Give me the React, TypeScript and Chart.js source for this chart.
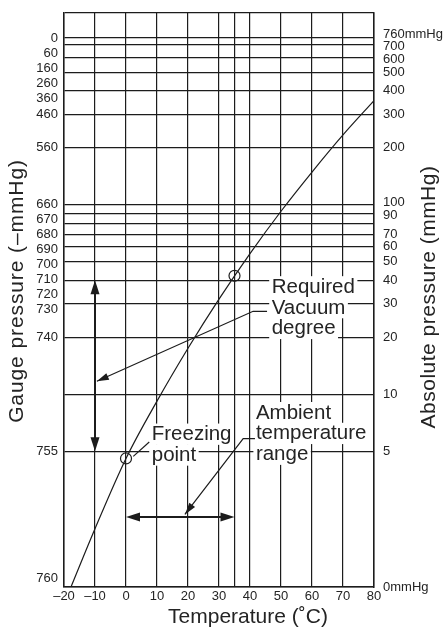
import React, { useEffect, useRef } from "react";
import { Chart, registerables } from "chart.js";

Chart.register(...registerables);

// ---------- DATA ----------
// Saturated vapour pressure curve (temperature °C -> absolute pressure mmHg)
const temperatures = [-20, -10, 0, 10, 20, 30, 40, 50, 60, 70, 80];
const vaporPressure = [0.78, 1.95, 4.58, 9.2, 17.5, 31.8, 55.3, 92.5, 149, 234, 355];

// circled points on the curve
const markedTemps = [0, 35];
const markedPressures = [4.58, 42.2];

// x axis (temperature)
const xMin = -20;
const xMax = 80;
const xGridValues = [-20, -10, 0, 10, 20, 30, 35, 40, 50, 60, 70, 80];
const xLabelledValues = [-20, -10, 0, 10, 20, 30, 40, 50, 60, 70, 80];

// y axis (absolute pressure, logarithmic)
const yMin = 0.96;
const yMax = 1030;
const atmospheric = 760;
const absGridValues = [760, 700, 600, 500, 400, 300, 200, 100, 90, 80, 70, 60, 50, 40, 30, 20, 10, 5];
const gaugeTickLabels = [0, 60, 160, 260, 360, 460, 560, 660, 670, 680, 690, 700, 710, 720, 730, 740, 755, 760];
const absTickLabels = [760, 700, 600, 500, 400, 300, 200, 100, 90, 70, 60, 50, 40, 30, 20, 10, 5, 0];

// annotations (data units: temperature, absolute pressure)
const vacuumArrowTemp = -10;
const vacuumArrowRange = [5, 40];
const ambientArrowPressure = 2.25;
const ambientArrowRange = [0, 35];

const textLabels = [
  { lines: ["Required", "Vacuum", "degree"], t: 47.0, p: 37.2 },
  { lines: ["Freezing", "point"], t: 8.3, p: 6.2 },
  { lines: ["Ambient", "temperature", "range"], t: 41.9, p: 8.06 },
];

const leaderLines = [
  { pts: [[45.5, 27.4], [41, 27.4], [-9.4, 11.7]], arrow: true },
  { pts: [[41.6, 5.83], [37.8, 5.83], [19.0, 2.32]], arrow: true },
  { pts: [[2.35, 4.7], [7.5, 5.6]], arrow: false },
];

const xTitle = "Temperature (\u02DAC)";
const yLeftTitle = "Gauge pressure (\u2013mmHg)";
const yRightTitle = "Absolute pressure (mmHg)";

// ---------- STYLE ----------
const FONT = "'Liberation Sans', Arial, Helvetica, sans-serif";
const INK = "#1c1c1c";
const TEXT = "#242424";

function spreadTopDown(ys: number[], gap: number): number[] {
  const out: number[] = [];
  ys.forEach((y, i) => {
    out.push(i === 0 ? y : Math.max(y, out[i - 1] + gap));
  });
  return out;
}

function spreadCentered(ys: number[], gap: number): number[] {
  let groups = ys.map((y, i) => ({ start: i, n: 1, center: y }));
  let changed = true;
  while (changed) {
    changed = false;
    for (let i = 0; i < groups.length - 1; i++) {
      const a = groups[i];
      const b = groups[i + 1];
      const aBottom = a.center + ((a.n - 1) * gap) / 2;
      const bTop = b.center - ((b.n - 1) * gap) / 2;
      if (bTop - aBottom < gap) {
        const n = a.n + b.n;
        groups.splice(i, 2, { start: a.start, n, center: (a.center * a.n + b.center * b.n) / n });
        changed = true;
        break;
      }
    }
  }
  const out: number[] = new Array(ys.length);
  groups.forEach((g) => {
    for (let k = 0; k < g.n; k++) out[g.start + k] = g.center - ((g.n - 1) * gap) / 2 + k * gap;
  });
  return out;
}

function arrowHead(ctx: CanvasRenderingContext2D, tx: number, ty: number, fx: number, fy: number, len: number, hw: number) {
  const ang = Math.atan2(ty - fy, tx - fx);
  const bx = tx - len * Math.cos(ang);
  const by = ty - len * Math.sin(ang);
  ctx.beginPath();
  ctx.moveTo(tx, ty);
  ctx.lineTo(bx + hw * Math.sin(ang), by - hw * Math.cos(ang));
  ctx.lineTo(bx - hw * Math.sin(ang), by + hw * Math.cos(ang));
  ctx.closePath();
  ctx.fill();
}

function doubleArrow(ctx: CanvasRenderingContext2D, x1: number, y1: number, x2: number, y2: number) {
  const len = 14;
  const hw = 4.5;
  const ang = Math.atan2(y2 - y1, x2 - x1);
  ctx.beginPath();
  ctx.moveTo(x1 + (len - 2) * Math.cos(ang), y1 + (len - 2) * Math.sin(ang));
  ctx.lineTo(x2 - (len - 2) * Math.cos(ang), y2 - (len - 2) * Math.sin(ang));
  ctx.stroke();
  arrowHead(ctx, x1, y1, x2, y2, len, hw);
  arrowHead(ctx, x2, y2, x1, y1, len, hw);
}

function setSpacing(ctx: CanvasRenderingContext2D, px: number) {
  (ctx as any).letterSpacing = `${px}px`;
}

const annotationPlugin = {
  id: "vaporAnnotations",
  afterDatasetsDraw(chart: any) {
    const ctx: CanvasRenderingContext2D = chart.ctx;
    const xs = chart.scales.x;
    const ys = chart.scales.y;
    const px = (v: number) => xs.getPixelForValue(v);
    const py = (v: number) => ys.getPixelForValue(v);
    ctx.save();

    // text labels on white boxes
    const fs = 20.5;
    const lh = 20.8;
    ctx.font = `${fs}px ${FONT}`;
    ctx.textBaseline = "middle";
    ctx.textAlign = "left";
    textLabels.forEach((lab) => {
      const x0 = px(lab.t);
      const y0 = py(lab.p);
      lab.lines.forEach((line, i) => {
        const w = ctx.measureText(line).width;
        const cy = y0 + i * lh;
        ctx.fillStyle = "#ffffff";
        ctx.fillRect(x0 - 2.5, cy - 10, w + 5, lh + 0.5);
      });
      lab.lines.forEach((line, i) => {
        ctx.fillStyle = TEXT;
        ctx.fillText(line, x0, y0 + i * lh + 1);
      });
    });

    // leader lines
    ctx.strokeStyle = INK;
    ctx.fillStyle = INK;
    ctx.lineWidth = 1.2;
    leaderLines.forEach((ld) => {
      const pts = ld.pts.map(([t, p]) => [px(t), py(p)]);
      ctx.beginPath();
      pts.forEach(([x, y], i) => (i === 0 ? ctx.moveTo(x, y) : ctx.lineTo(x, y)));
      ctx.stroke();
      if (ld.arrow) {
        const [tx, ty] = pts[pts.length - 1];
        const [fx, fy] = pts[pts.length - 2];
        arrowHead(ctx, tx, ty, fx, fy, 12, 3.6);
      }
    });

    // double arrows
    ctx.lineWidth = 2;
    doubleArrow(ctx, px(vacuumArrowTemp), py(vacuumArrowRange[1]), px(vacuumArrowTemp), py(vacuumArrowRange[0]));
    doubleArrow(ctx, px(ambientArrowRange[0]), py(ambientArrowPressure), px(ambientArrowRange[1]), py(ambientArrowPressure));

    ctx.restore();
  },
  afterDraw(chart: any) {
    const ctx: CanvasRenderingContext2D = chart.ctx;
    const ys = chart.scales.y;
    const area = chart.chartArea;
    ctx.save();
    ctx.fillStyle = TEXT;
    ctx.font = `13px ${FONT}`;
    ctx.textBaseline = "middle";

    // left: gauge pressure labels
    const leftTargets = gaugeTickLabels.map((g) => ys.getPixelForValue(Math.max(atmospheric - g, yMin)));
    const leftPos = spreadTopDown(leftTargets, 15);
    ctx.textAlign = "right";
    gaugeTickLabels.forEach((g, i) => {
      const y = Math.min(leftPos[i], area.bottom - 8.5);
      ctx.fillText(String(g), area.left - 6, y);
    });

    // right: absolute pressure labels
    const rightTargets = absTickLabels.map((a) => ys.getPixelForValue(Math.max(a, yMin)));
    const rightPos = spreadCentered(rightTargets, 12.5);
    ctx.textAlign = "left";
    absTickLabels.forEach((a, i) => {
      const txt = i === 0 || i === absTickLabels.length - 1 ? `${a}mmHg` : String(a);
      ctx.fillText(txt, area.right + 9, rightPos[i]);
    });

    // axis titles
    const midY = (area.top + area.bottom) / 2;
    ctx.font = `21px ${FONT}`;
    ctx.textAlign = "center";
    ctx.save();
    setSpacing(ctx, 0.9);
    ctx.translate(area.left - 47, midY - 9);
    ctx.rotate(-Math.PI / 2);
    ctx.fillText(yLeftTitle, 0, 0);
    ctx.restore();
    ctx.save();
    setSpacing(ctx, 0.5);
    ctx.translate(area.right + 55, midY - 3);
    ctx.rotate(-Math.PI / 2);
    ctx.fillText(yRightTitle, 0, 0);
    ctx.restore();
    setSpacing(ctx, 0);
    ctx.fillText(xTitle, (area.left + area.right) / 2 + 29, area.bottom + 30);

    ctx.restore();
  },
};

const fmtTemp = (v: number) => (v < 0 ? "\u2013" + Math.abs(v) : String(v));

export default function App() {
  const ref = useRef<HTMLCanvasElement | null>(null);
  useEffect(() => {
    document.body.style.margin = "0";
    const canvas = ref.current;
    if (!canvas) return;
    const gridCommon = { color: INK, lineWidth: 1.2, drawTicks: false };
    const chart = new Chart(canvas, {
      type: "line",
      data: {
        datasets: [
          {
            label: "Vapor pressure",
            data: temperatures.map((t, i) => ({ x: t, y: vaporPressure[i] })),
            borderColor: INK,
            borderWidth: 1.2,
            pointRadius: 0,
            fill: false,
            cubicInterpolationMode: "monotone",
          },
          {
            label: "Marked",
            data: markedTemps.map((t, i) => ({ x: t, y: markedPressures[i] })),
            showLine: false,
            pointRadius: 5.5,
            pointBorderWidth: 1.2,
            pointBorderColor: INK,
            pointBackgroundColor: "rgba(0,0,0,0)",
          },
        ],
      },
      options: {
        responsive: false,
        animation: false,
        layout: { padding: { top: 13, left: 0, right: 0, bottom: 0 } },
        plugins: { legend: { display: false }, tooltip: { enabled: false } },
        scales: {
          x: {
            type: "linear",
            min: xMin,
            max: xMax,
            position: "bottom",
            grid: gridCommon,
            border: { display: true, color: INK, width: 1.5 },
            afterBuildTicks: (scale: any) => {
              scale.ticks = xGridValues.map((v) => ({ value: v }));
            },
            afterFit: (scale: any) => {
              scale.height = 41;
            },
            ticks: {
              autoSkip: false,
              maxRotation: 0,
              padding: 2,
              color: TEXT,
              font: { family: FONT, size: 13 },
              callback: (v: any) => (xLabelledValues.includes(Number(v)) ? fmtTemp(Number(v)) : ""),
            },
          },
          y: {
            type: "logarithmic",
            min: yMin,
            max: yMax,
            bounds: "data",
            position: "left",
            grid: gridCommon,
            border: { display: true, color: INK, width: 1.5 },
            afterBuildTicks: (scale: any) => {
              scale.ticks = [yMin, ...absGridValues, yMax].map((v) => ({ value: v }));
            },
            afterFit: (scale: any) => {
              scale.width = 64;
            },
            ticks: { display: false },
          },
          y2: {
            type: "logarithmic",
            min: yMin,
            max: yMax,
            bounds: "data",
            position: "right",
            grid: { display: false, drawTicks: false },
            border: { display: true, color: INK, width: 1.5 },
            afterFit: (scale: any) => {
              scale.width = 72;
            },
            ticks: { display: false },
          },
        },
      } as any,
      plugins: [annotationPlugin],
    } as any);
    return () => chart.destroy();
  }, []);
  return (
    <div style={{ width: 446, height: 628, background: "#ffffff" }}>
      <canvas ref={ref} width={446} height={628} style={{ display: "block" }} />
    </div>
  );
}
